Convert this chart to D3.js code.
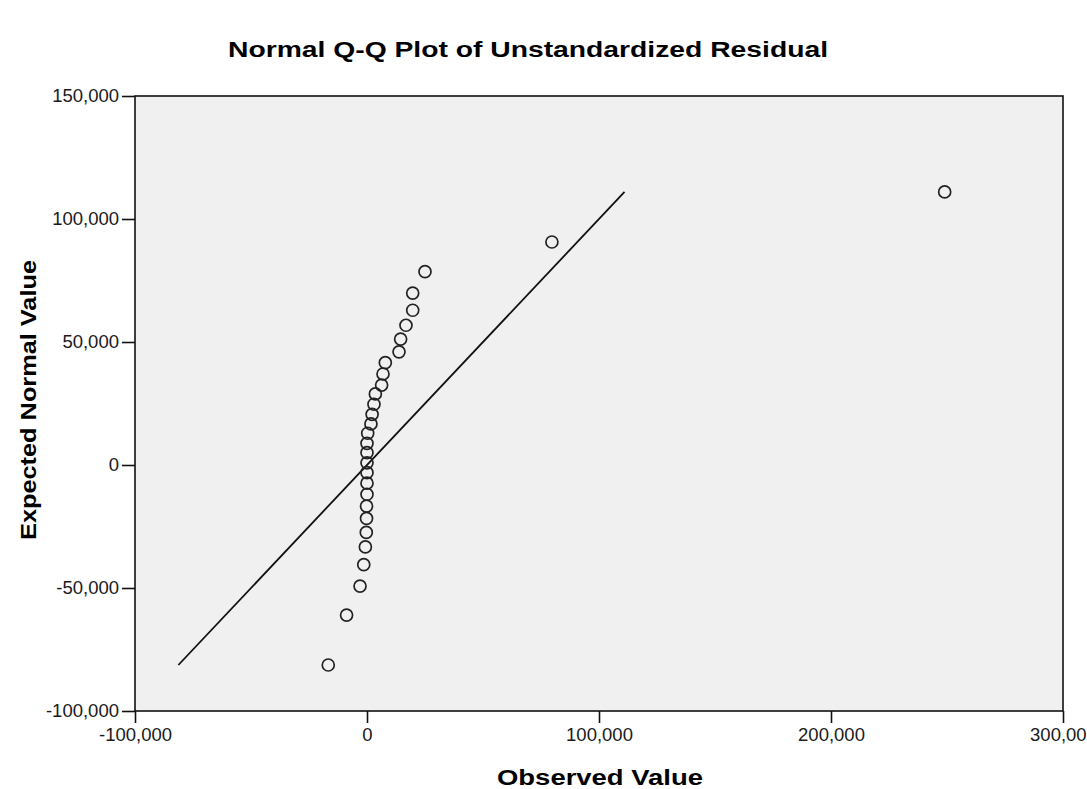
<!DOCTYPE html>
<html>
<head>
<meta charset="utf-8">
<script src="https://cdn.jsdelivr.net/npm/d3@7"></script>
<style>
  body { margin: 0; background: #fff; }
  text { font-family: "Liberation Sans", Arial, sans-serif; }
</style>
</head>
<body>
<div id="chart"></div>
<script>
// observed residuals and their expected normal values
const observed = [249000, 79700, 25000, 19700, 19700, 16800, 14500, 13800, 7900, 6900,
    6300, 3600, 3000, 2200, 1700, 300, 0, 0, 0, 0,
    0, 0, -200, -200, -300, -700, -1400, -3000, -8800, -16700];
const expected = [111000, 90650, 78600, 69900, 62900, 56800, 51200, 46000, 41600, 37000,
    32500, 28900, 24700, 20600, 16700, 12900, 8800, 5000, 900, -3100,
    -7400, -11900, -16700, -21700, -27400, -33300, -40500, -49200, -61000, -81300];
const xTicks = [-100000, 0, 100000, 200000, 300000];
const yTicks = [-100000, -50000, 0, 50000, 100000, 150000];
const refLine = [-81300, 111000];

const W = 1087, H = 789;
const margin = { top: 96, right: 24, bottom: 78, left: 135 },
    width = W - margin.left - margin.right,
    height = H - margin.top - margin.bottom;

const svg = d3.select("#chart")
    .append("svg")
    .attr("width", W)
    .attr("height", H);

const g = svg.append("g")
    .attr("transform", `translate(${margin.left},${margin.top})`);

const x = d3.scaleLinear().domain([-100000, 300000]).range([0, width]);
const y = d3.scaleLinear().domain([-100000, 150000]).range([height, 0]);
// plain hyphen for negatives, like the original
const fmt = d3.formatLocale({ decimal: ".", thousands: ",", grouping: [3], currency: ["$", ""], minus: "-" }).format(",");

// plot background
g.append("rect")
    .attr("width", width)
    .attr("height", height)
    .attr("fill", "#f0f0f0");

// axes
const xAxis = g.append("g")
    .attr("transform", `translate(0,${height})`)
    .call(d3.axisBottom(x).tickValues(xTicks).tickFormat(fmt).tickSize(12).tickPadding(5));
const yAxis = g.append("g")
    .call(d3.axisLeft(y).tickValues(yTicks).tickFormat(fmt).tickSize(13).tickPadding(3));

[xAxis, yAxis].forEach(a => {
    a.select(".domain").remove();
    a.selectAll("line").attr("stroke", "#111").attr("stroke-width", 1.6);
    a.selectAll("text")
        .attr("fill", "#1a1a1a")
        .style("font-size", "18.5px")
        .style("font-family", "Liberation Sans, Arial, sans-serif");
});

// frame
g.append("rect")
    .attr("width", width)
    .attr("height", height)
    .attr("fill", "none")
    .attr("stroke", "#111")
    .attr("stroke-width", 1.6);

// reference line
g.append("line")
    .attr("x1", x(refLine[0])).attr("y1", y(refLine[0]))
    .attr("x2", x(refLine[1])).attr("y2", y(refLine[1]))
    .attr("stroke", "#111")
    .attr("stroke-width", 1.8);

// points
g.selectAll("circle.pt")
    .data(observed.map((o, i) => ({ o: o, e: expected[i] })))
    .join("circle")
    .attr("class", "pt")
    .attr("cx", d => x(d.o))
    .attr("cy", d => y(d.e))
    .attr("r", 6)
    .attr("fill", "none")
    .attr("stroke", "#222")
    .attr("stroke-width", 1.7);

// title
svg.append("text")
    .attr("x", 528)
    .attr("y", 57)
    .attr("text-anchor", "middle")
    .attr("textLength", 600)
    .attr("lengthAdjust", "spacingAndGlyphs")
    .style("font-size", "22.5px")
    .style("font-weight", "bold")
    .text("Normal Q-Q Plot of Unstandardized Residual");

// axis titles
svg.append("text")
    .attr("x", 600)
    .attr("y", 785)
    .attr("text-anchor", "middle")
    .attr("textLength", 206)
    .attr("lengthAdjust", "spacingAndGlyphs")
    .style("font-size", "22px")
    .style("font-weight", "bold")
    .text("Observed Value");

svg.append("text")
    .attr("transform", "translate(36,400) rotate(-90)")
    .attr("text-anchor", "middle")
    .attr("textLength", 280)
    .attr("lengthAdjust", "spacingAndGlyphs")
    .style("font-size", "22px")
    .style("font-weight", "bold")
    .text("Expected Normal Value");
</script>
</body>
</html>
